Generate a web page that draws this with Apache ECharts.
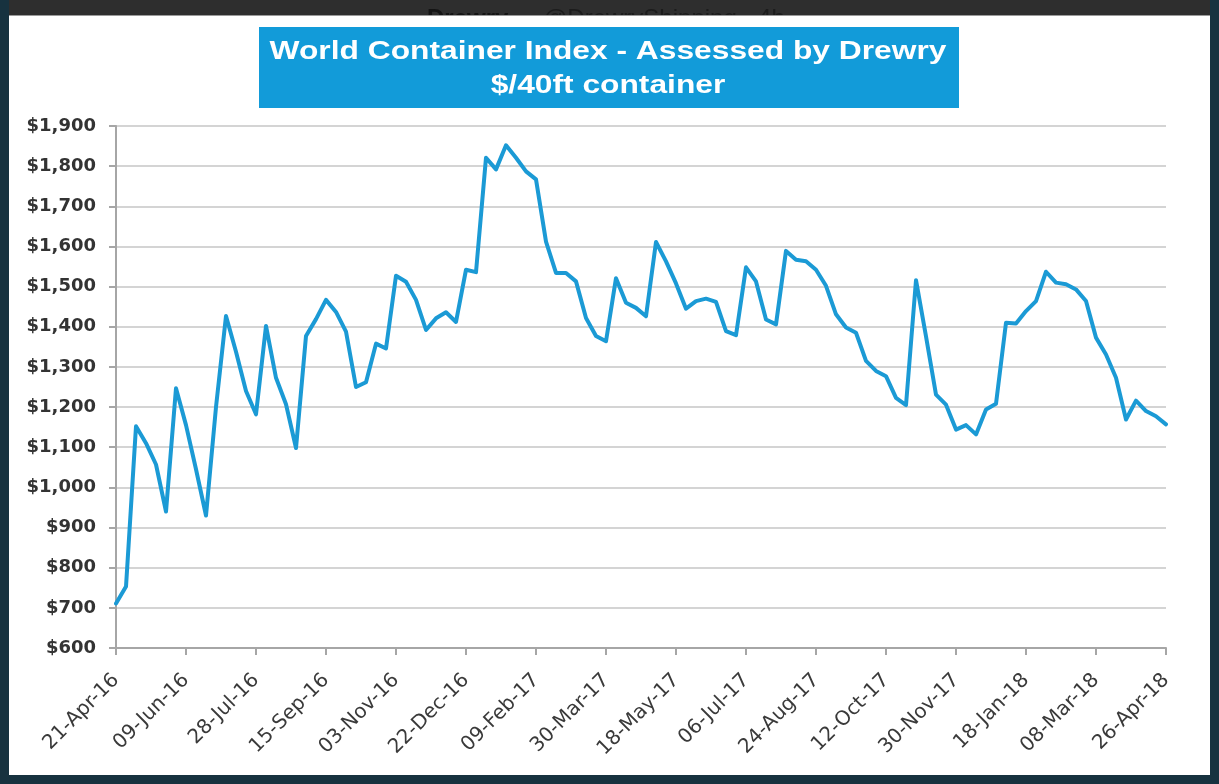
<!DOCTYPE html>
<html>
<head>
<meta charset="utf-8">
<script src="https://cdn.jsdelivr.net/npm/echarts@6/dist/echarts.min.js"></script>
<style>
html,body{margin:0;padding:0;background:#ffffff;}
#chart{width:1219px;height:784px;}
</style>
</head>
<body>
<div id="chart"></div>
<script>
// Weekly World Container Index values ($/40ft), 21-Apr-16 .. 26-Apr-18
var startDate = '2016-04-21';
var weekCount = 106;
var wciValues = [
  711, 753, 1152, 1110, 1057, 940, 1247, 1155, 1045, 930,
  1200, 1427, 1338, 1240, 1182, 1402, 1273, 1207, 1098, 1377,
  1419, 1467, 1437, 1388, 1250, 1262, 1358, 1346, 1527, 1512,
  1467, 1392, 1421, 1436, 1412, 1542, 1536, 1821, 1792, 1852,
  1821, 1787, 1767, 1612, 1534, 1534, 1513, 1422, 1377, 1364,
  1521, 1460, 1447, 1426, 1611, 1563, 1508, 1445, 1464, 1470,
  1462, 1389, 1379, 1548, 1513, 1418, 1406, 1589, 1567, 1563,
  1542, 1502, 1431, 1398, 1385, 1315, 1290, 1277, 1223, 1205,
  1516, 1376, 1231, 1206, 1144, 1155, 1132, 1194, 1208, 1410,
  1408, 1439, 1464, 1537, 1510, 1506, 1493, 1464, 1373, 1331,
  1273, 1169, 1216, 1190, 1177, 1157
];
var yTicks = [600, 700, 800, 900, 1000, 1100, 1200, 1300, 1400, 1500, 1600, 1700, 1800, 1900];
var titleLines = ['World Container Index - Assessed by Drewry', '$/40ft container'];
var headerTexts = ['Drewry', '@DrewryShipping · 4h'];

var months = ['Jan','Feb','Mar','Apr','May','Jun','Jul','Aug','Sep','Oct','Nov','Dec'];
var categories = [];
(function(){
  var t0 = Date.parse(startDate + 'T00:00:00Z');
  for (var i = 0; i < weekCount; i++) {
    var d = new Date(t0 + i * 7 * 86400000);
    var dd = ('0' + d.getUTCDate()).slice(-2);
    var yy = ('' + d.getUTCFullYear()).slice(-2);
    categories.push(dd + '-' + months[d.getUTCMonth()] + '-' + yy);
  }
})();

function money(v) {
  var s = String(v);
  if (s.length > 3) s = s.slice(0, s.length - 3) + ',' + s.slice(-3);
  return '$' + s;
}

var chart = echarts.init(document.getElementById('chart'), null, {renderer: 'canvas'});
chart.setOption({
  animation: false,
  backgroundColor: '#ffffff',
  graphic: [
    {type: 'rect', shape: {x: 0, y: 0, width: 1219, height: 15}, style: {fill: '#2e2e2e'}, z: 0},
    {type: 'text', x: 427, y: 7, style: {text: headerTexts[0], font: 'bold 24px "Liberation Sans", Arial', fill: '#141414', textVerticalAlign: 'top'}, z: 1},
    {type: 'text', x: 543, y: 7, style: {text: headerTexts[1], font: '24px "Liberation Sans", Arial', fill: '#1c1c1c', textVerticalAlign: 'top'}, z: 1},
    {type: 'rect', shape: {x: 0, y: 15, width: 1219, height: 12}, style: {fill: '#ffffff'}, z: 2},
    {type: 'rect', shape: {x: 0, y: 15, width: 1219, height: 1}, style: {fill: '#9a9a9a'}, z: 2},
    {type: 'rect', shape: {x: 0, y: 0, width: 9, height: 784}, style: {fill: '#17323f'}, z: 2},
    {type: 'rect', shape: {x: 1210, y: 0, width: 9, height: 784}, style: {fill: '#17323f'}, z: 2},
    {type: 'rect', shape: {x: 0, y: 775, width: 1219, height: 9}, style: {fill: '#17323f'}, z: 2},
    {type: 'rect', shape: {x: 259, y: 27, width: 700, height: 81}, style: {fill: '#129bd9'}, z: 3},
    {type: 'text', x: 608, y: 52, scaleX: 1.27, style: {text: titleLines[0], font: 'bold 25px "Liberation Sans", Arial', fill: '#ffffff', textAlign: 'center', textVerticalAlign: 'middle'}, z: 4},
    {type: 'text', x: 608, y: 86, scaleX: 1.27, style: {text: titleLines[1], font: 'bold 25px "Liberation Sans", Arial', fill: '#ffffff', textAlign: 'center', textVerticalAlign: 'middle'}, z: 4}
  ],
  grid: {left: 116, right: 53, top: 126, bottom: 136, containLabel: false},
  xAxis: {
    type: 'category',
    data: categories,
    boundaryGap: false,
    axisLine: {show: true, lineStyle: {color: '#a6a6a6', width: 2}},
    axisTick: {show: true, interval: 6, length: 7, lineStyle: {color: '#a6a6a6', width: 2}},
    axisLabel: {
      interval: 6, rotate: 45, margin: 29,
      color: '#3a3a3a', fontSize: 20, fontFamily: '"DejaVu Sans", sans-serif'
    },
    splitLine: {show: false}
  },
  yAxis: {
    type: 'value',
    min: yTicks[0], max: yTicks[yTicks.length - 1], interval: 100,
    axisLine: {show: true, lineStyle: {color: '#a6a6a6', width: 2}},
    axisTick: {show: true, length: 7, lineStyle: {color: '#a6a6a6', width: 2}},
    axisLabel: {
      formatter: money, margin: 20,
      color: '#333333', fontSize: 18, fontWeight: 'bold', fontFamily: '"DejaVu Sans", sans-serif'
    },
    splitLine: {show: true, lineStyle: {color: '#d4d4d4', width: 2}}
  },
  series: [{
    type: 'line',
    data: wciValues,
    showSymbol: false,
    smooth: false,
    lineStyle: {color: '#1b9ad5', width: 4, join: 'round', cap: 'round'},
    z: 5
  }]
});
</script>
</body>
</html>
